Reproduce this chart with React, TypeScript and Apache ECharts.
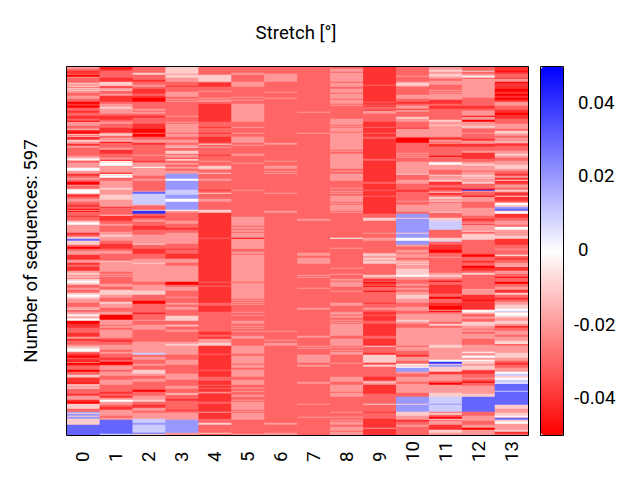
import React, { useEffect, useRef } from "react";
import * as echarts from "echarts";

// Runs: [last row (exclusive), level], level in hundredths of a degree.
// Rows are the pixel rows that the 597 sequences are resolved to in the picture.
const rowCount = 368;
const columnLabels = ["0", "1", "2", "3", "4", "5", "6", "7", "8", "9", "10", "11", "12", "13"];
const upperTicks = [0, 0.02, 0.04];
const lowerTicks = [-0.04, -0.02];

const col0 = [[2,-2],[4,-3],[7,-4],[8,-3],[10,-5],[11,-2],[16,-3],[17,-1],[19,-2],[20,-1],[21,-3],[22,-1],[23,-2],[24,-1],[26,-2],[29,-3],[32,-2],[35,-3],[37,-5],[39,-4],[41,-5],[44,-3],[46,-4],[49,-3],[52,-4],[54,-3],[55,-5],[59,-2],[62,-3],[63,-1],[65,-4],[67,-5],[68,-1],[69,-3],[70,-1],[73,-4],[75,-1],[77,-2],[79,-4],[81,-2],[89,-3],[91,-2],[92,-1],[93,0],[94,-1],[96,-3],[101,-2],[104,0],[107,-2],[109,-4],[111,-3],[113,-2],[115,-3],[118,-5],
[119,-2],[122,-3],[123,-1],[127,0],[128,-3],[130,-4],[132,-3],[135,-2],[138,-3],[140,-4],[142,-3],[143,-5],[144,-2],[145,-5],[149,-3],[150,-4],[154,-3],[156,-1],[158,0],[166,-2],[168,-4],[170,-3],[172,-1],[174,3],[178,-1],[180,-3],[182,-5],[184,-3],[188,-2],[193,-4],[196,-2],[198,-4],[200,-3],[204,-4],[206,-2],[208,-1],[210,-2],[211,-1],[212,-3],[214,-1],[216,0],[218,-1],[221,-3],[223,-2],[226,-3],[228,-1],[230,0],[232,-1],[236,-2],[240,-3],[242,-2],[243,-1],
[245,-3],[247,-2],[248,-1],[249,0],[250,-1],[251,-2],[252,-1],[254,0],[257,-5],[261,-4],[266,-3],[270,-4],[272,-2],[274,-4],[278,-3],[280,-2],[282,-1],[285,0],[287,-3],[289,-4],[291,-5],[292,-3],[294,-4],[295,-5],[296,-2],[298,-5],[299,-4],[303,-3],[305,-5],[308,-3],[310,-1],[311,-2],[316,-4],[317,-5],[318,-2],[319,-1],[321,-2],[322,-1],[327,-3],[329,-4],[333,-2],[335,-4],[337,-5],[342,-1],[345,-3],[346,2],[347,-1],[349,2],[350,-1],[352,2],[358,-1],[368,3]];
const col1 = [[1,-4],[2,-5],[4,-4],[11,-3],[15,-4],[19,-1],[20,-3],[21,-4],[23,-2],[24,-1],[27,-3],[29,-2],[35,-4],[37,-3],[40,-2],[42,-1],[47,-2],[49,-3],[53,-4],[55,-3],[57,-2],[61,-3],[66,-4],[67,-2],[69,-1],[71,-3],[74,-2],[75,-1],[76,-5],[81,-3],[83,-2],[87,-4],[91,-3],[93,-2],[94,-5],[95,0],[96,-1],[99,0],[106,-2],[107,-5],[108,0],[109,-1],[111,0],[114,-3],[118,-2],
[121,-2],[123,-1],[128,-2],[133,-1],[140,-2],[141,-4],[148,-3],[149,-1],[154,-4],[157,-3],[159,-2],[165,-3],[168,-2],[170,-1],[174,-2],[177,-3],[182,-4],[184,-3],[187,-2],[194,-3],[195,-1],[205,-2],[207,-3],[208,-2],[209,-3],[210,-2],[217,-3],[220,-2],[223,-3],[228,-1],[231,-2],[235,-3],[237,-1],[241,-2],[243,-3],
[245,-3],[248,-2],[253,-5],[258,-2],[259,-3],[261,-2],[263,-3],[271,-2],[273,-3],[275,-4],[278,-3],[283,-2],[285,-3],[287,-2],[291,-3],[293,-4],[295,-3],[298,-5],[299,-3],[303,-2],[305,-3],[309,-2],[313,-3],[318,-2],[325,-3],[327,-4],[329,-3],[331,-4],[333,-2],[335,0],[338,-2],[340,-3],[343,-4],[349,-2],[351,-3],[353,-2],[367,3],[368,1]];
const col2 = [[6,-3],[8,-1],[13,-3],[15,-4],[18,-3],[20,-2],[22,-3],[27,-4],[29,-3],[31,-4],[35,-5],[42,-3],[44,-2],[45,-3],[47,-2],[49,-3],[51,-4],[57,-3],[62,-4],[66,-5],[67,-3],[70,-5],[73,-3],[76,-2],[78,-4],[88,-3],[89,-2],[94,-3],[95,-4],[96,-3],[100,-2],[101,0],[109,-2],[112,-3],[114,-2],[118,-3],
[124,-3],[125,-2],[127,3],[138,1],[139,-2],[143,-3],[144,-1],[147,4],[149,-3],[151,-4],[153,-3],[155,-2],[159,-3],[163,-4],[168,-3],[177,-2],[178,-1],[182,-3],[187,-4],[192,-3],[196,-2],[197,-1],[215,-2],[218,-3],[224,-2],[228,-1],[234,-3],[237,-5],[243,-3],
[246,-3],[247,-5],[253,-3],[254,-2],[258,-3],[263,-2],[275,-3],[286,-2],[288,1],[290,-3],[293,-2],[297,-3],[299,-2],[303,-3],[307,-1],[309,-2],[312,-3],[315,-2],[323,-3],[325,-5],[329,-3],[333,-2],[335,-1],[338,-3],[341,-4],[344,-2],[346,-3],[352,-2],[356,1],[358,2],[366,1],[367,3],[368,-1]];
const col3 = [[7,-1],[8,-2],[11,-1],[15,-2],[19,-3],[20,-4],[25,-3],[30,-2],[32,-3],[33,-2],[34,-3],[35,-2],[49,-3],[50,-2],[55,-3],[56,-2],[57,-3],[66,-2],[67,-3],[70,-2],[73,-3],[76,-2],[78,-3],[80,-2],[81,-1],[84,-3],[87,-1],[88,-3],[91,-2],[92,-4],[94,-1],[96,-3],[98,-2],[100,-3],[102,-2],[104,-3],[107,-2],[112,2],[114,0],[118,2],
[123,2],[128,1],[132,2],[135,0],[143,2],[144,0],[146,-2],[154,-3],[157,-2],[161,-3],[163,-4],[166,-3],[177,-2],[182,-3],[183,-4],[187,-3],[192,-4],[196,-2],[199,-3],[215,-2],[218,-5],[220,-3],[224,-2],[230,-3],[231,-2],[236,-3],[238,-2],[240,-3],[243,-2],
[249,-3],[254,-1],[258,-3],[259,-1],[260,-2],[263,-3],[265,-2],[275,-3],[277,-2],[279,-1],[288,-2],[293,-3],[298,-2],[307,-3],[313,-2],[319,-3],[322,-2],[326,-3],[327,-2],[328,-1],[332,-3],[334,-4],[343,-3],[344,-4],[346,-3],[353,-2],[366,2],[368,-2]];
const col4 = [[8,-3],[15,-1],[16,-3],[20,-4],[24,-3],[25,-2],[31,-3],[32,-2],[33,-3],[35,-2],[37,-3],[55,-4],[60,-3],[61,-4],[66,-3],[67,-4],[70,-3],[76,-4],[77,-3],[78,-1],[80,-3],[81,-2],[88,-3],[89,-4],[94,-3],[95,-2],[99,-3],[102,-1],[103,-2],[106,-3],[107,-1],[112,-3],[114,-2],[118,-3],
[123,-3],[124,-4],[126,-3],[127,-1],[132,-3],[135,-2],[143,-3],[146,-1],[171,-4],[172,-3],[215,-4],[216,-3],[219,-4],[220,-3],[236,-4],[239,-3],[243,-4],
[245,-4],[265,-3],[268,-4],[270,-3],[272,-4],[276,-2],[279,-1],[287,-4],[288,-3],[303,-4],[304,-3],[310,-4],[314,-3],[318,-4],[319,-3],[321,-4],[322,-3],[325,-4],[326,-2],[327,-3],[335,-4],[337,-3],[345,-4],[346,-2],[352,-4],[356,-3],[358,-1],[366,-3],[367,-1],[368,-3]];
const col5 = [[6,-3],[8,-2],[15,-3],[20,-2],[30,-3],[31,-2],[33,-3],[34,-2],[37,-3],[55,-2],[60,-3],[61,-2],[66,-3],[67,-2],[70,-3],[76,-2],[78,-3],[79,-2],[87,-3],[89,-2],[96,-3],[97,-2],[118,-3],
[123,-3],[124,-2],[150,-3],[159,-2],[160,-3],[162,-2],[163,-3],[165,-2],[166,-3],[171,-2],[172,-5],[182,-2],[185,-3],[187,-2],[188,-3],[215,-2],[216,-3],[232,-2],[233,-3],[234,-2],[235,-3],[236,-2],[237,-3],[238,-2],[243,-3],
[245,-3],[246,-2],[248,-3],[249,-2],[254,-3],[257,-2],[259,-3],[260,-2],[261,-3],[262,-2],[264,-3],[265,-2],[269,-3],[272,-2],[279,-3],[287,-2],[289,-3],[297,-2],[298,-3],[301,-2],[303,-3],[310,-2],[313,-3],[318,-2],[321,-3],[322,-2],[324,-3],[325,-2],[328,-3],[330,-2],[333,-3],[334,-2],[335,-3],[343,-2],[344,-3],[345,-2],[346,-3],[353,-2],[367,-3],[368,-2]];
const col6 = [[7,-3],[15,-2],[25,-3],[26,-2],[31,-3],[32,-2],[76,-3],[78,-2],[94,-3],[95,-2],[99,-3],[102,-2],[104,-3],[105,-2],[106,-3],[107,-2],[126,-3],[127,-2],[144,-3],[146,-2],[264,-3],[265,-2],[273,-3],[274,-2],[276,-3],[279,-2],[356,-3],[358,-2],[366,-3],[368,-2]];
const col7 = [[45,-3],[46,-2],[66,-3],[67,-2],[152,-3],[154,-2],[186,-3],[189,-2],[191,-3],[197,-2],[208,-3],[209,-2],[210,-3],[211,-2],[221,-3],[222,-2],[241,-3],[243,-2],[269,-3],[271,-2],[279,-3],[280,-2],[281,-3],[282,-2],[288,-3],[296,-2],[298,-3],[300,-2],[315,-3],[317,-2],[337,-3],[338,-2],[350,-3],[351,-2],[368,-3]];
const col8 = [[2,-3],[5,-2],[6,-3],[15,-2],[16,-3],[20,-2],[22,-3],[26,-2],[27,-3],[32,-2],[33,-3],[37,-2],[38,-3],[39,-2],[52,-3],[58,-2],[59,-3],[60,-2],[61,-3],[65,-2],[66,-3],[83,-2],[84,-3],[85,-2],[87,-3],[102,-2],[104,-3],[105,-2],[107,-3],[114,-2],[118,-3],
[121,-3],[122,-2],[124,-3],[125,-2],[126,-3],[127,-2],[129,-3],[135,-2],[136,-3],[137,-2],[138,-3],[144,-2],[145,-3],[146,-2],[171,-3],[172,0],[181,-3],[182,-2],[201,-3],[202,-2],[207,-3],[208,-2],[212,-3],[214,-2],[215,-3],[220,-2],[224,-3],[225,-2],[236,-3],[239,-2],[243,-3],
[245,-3],[248,-2],[249,-3],[251,-2],[253,-3],[254,-2],[255,-3],[256,-2],[257,-3],[269,-2],[272,-3],[279,-2],[280,-3],[281,-2],[283,-3],[284,-2],[285,-3],[288,-2],[296,-3],[297,-2],[310,-3],[315,-2],[318,-3],[325,-2],[326,-3],[330,-2],[345,-3],[346,-2],[350,-3],[351,-2],[353,-3],[354,-2],[355,-3],[358,-2],[360,-3],[364,-2],[365,-3],[368,-2]];
const col9 = [[18,-4],[19,-3],[35,-4],[36,-3],[38,-4],[39,-3],[40,-4],[43,-3],[44,-4],[47,-2],[55,-3],[60,-4],[61,-3],[66,-4],[67,-3],[70,-4],[72,-3],[92,-4],[94,-3],[115,-4],[117,-3],[118,-4],
[123,-4],[124,-3],[129,-4],[130,-3],[147,-4],[151,-3],[154,-1],[166,-3],[167,-2],[171,-3],[174,-2],[186,-3],[187,-2],[189,-1],[191,-2],[193,-1],[194,-2],[197,-1],[208,-3],[210,-1],[212,-2],[214,-4],[215,-3],[216,-5],[218,-4],[219,-3],[220,-5],[224,-3],[225,-5],[236,-3],[237,-4],[241,-3],[243,-2],
[245,-3],[248,-4],[249,-3],[254,-4],[257,-3],[269,-4],[272,-3],[279,-4],[280,-1],[286,-3],[288,-4],[296,-1],[297,-4],[298,-3],[300,-1],[310,-3],[314,-4],[315,-2],[316,-1],[318,-2],[327,-4],[337,-3],[338,-1],[345,-3],[346,-4],[352,-3],[361,-4],[362,-2],[368,-4]];
const col10 = [[9,-3],[10,-2],[15,-3],[16,-2],[19,-1],[20,-2],[28,-3],[32,-2],[35,-3],[37,-4],[39,-3],[42,-2],[43,-4],[45,-2],[50,-3],[52,-1],[55,-2],[61,-3],[62,-4],[70,-2],[71,-3],[76,-5],[86,-3],[87,-2],[88,-3],[89,-2],[90,-3],[91,-2],[95,-3],[107,-2],[108,-1],[113,-3],[117,-2],[118,-3],
[123,-3],[125,-4],[134,-3],[135,-2],[138,-3],[145,-2],[147,-3],[151,2],[152,-1],[166,2],[167,-1],[171,2],[174,0],[178,2],[180,-2],[183,-3],[186,-2],[187,-3],[191,-2],[193,-3],[195,-2],[196,-1],[197,-2],[198,-1],[202,-2],[208,-1],[210,0],[213,-2],[217,-3],[219,-2],[221,-3],[223,-2],[225,-3],[228,-2],[232,-1],[236,-2],[240,-3],[243,-2],
[244,-2],[247,-3],[253,-2],[255,-1],[257,-2],[261,-3],[279,-2],[280,-3],[284,-2],[288,-3],[290,-4],[294,-2],[297,-3],[298,0],[300,-1],[301,0],[305,2],[307,-2],[310,-3],[315,-2],[317,-3],[326,-2],[330,-3],[337,2],[338,-1],[345,2],[349,-1],[353,-2],[355,-4],[358,-3],[360,-2],[368,-3]];
const col11 = [[3,-2],[5,-1],[7,-2],[10,-1],[12,-2],[14,-3],[18,-2],[23,-3],[24,-2],[25,-3],[26,-2],[27,-3],[33,-2],[37,-4],[39,-3],[42,-4],[53,-3],[55,-1],[58,-2],[59,-1],[70,-2],[71,-3],[73,-4],[75,-2],[76,-3],[77,-2],[80,-4],[89,-3],[90,-5],[95,-3],[96,-1],[98,0],[103,-2],[108,-3],[109,-1],[113,-2],[115,-1],[118,-4],
[121,-3],[123,-4],[125,-3],[126,-1],[128,-4],[130,-3],[132,-1],[134,-2],[135,-1],[136,-3],[145,-2],[146,-1],[151,-3],[154,-1],[163,1],[171,-3],[174,-1],[175,1],[178,-3],[183,-4],[186,-5],[190,-3],[191,-2],[206,-3],[208,-2],[210,-1],[212,-2],[214,-3],[215,-5],[218,-3],[227,-4],[230,-3],[232,-5],[236,-3],[239,-4],[243,-5],
[244,-2],[245,-5],[247,-3],[255,-2],[257,-3],[259,-1],[261,-3],[278,-2],[281,-1],[293,-2],[295,0],[297,4],[298,-1],[300,2],[305,-1],[307,-4],[308,-3],[314,-2],[316,-3],[318,-5],[326,-2],[330,-1],[337,1],[338,2],[345,1],[346,-3],[348,-1],[350,-3],[352,-5],[353,-1],[354,-3],[358,-2],[363,-4],[366,-1],[368,-2]];
const col12 = [[4,-3],[5,-1],[7,-3],[9,-2],[10,0],[11,-1],[12,-3],[31,-2],[39,-3],[42,-4],[44,-3],[49,-2],[50,-5],[53,-2],[55,-5],[59,-2],[61,-1],[62,-2],[66,-3],[67,-2],[72,-3],[74,-4],[77,-2],[80,-4],[84,-3],[86,-2],[92,-4],[95,-3],[97,-2],[99,-1],[104,-2],[105,-3],[108,-2],[110,-1],[111,-2],[112,-1],[115,-2],[117,-1],[118,-3],
[122,-3],[123,-5],[124,4],[125,-2],[129,-3],[130,-5],[135,-2],[141,-3],[149,-2],[152,-3],[154,-4],[156,-3],[157,-2],[158,-4],[164,-2],[165,-1],[167,-3],[173,-1],[187,-3],[188,-4],[190,-5],[194,-3],[196,-4],[199,-3],[201,-5],[204,-4],[206,-3],[208,-1],[222,-3],[228,-2],[233,-4],[234,-5],[243,-4],
[245,0],[247,-1],[250,-3],[252,-2],[255,-3],[259,-1],[262,-2],[263,-3],[265,-2],[267,-3],[272,-2],[278,-3],[285,-2],[286,0],[289,-2],[291,0],[293,-2],[294,0],[297,-1],[299,-2],[303,-1],[304,-3],[307,-4],[311,-3],[312,-2],[314,-3],[315,-4],[316,-5],[319,-3],[327,-2],[330,-1],[345,3],[349,-3],[354,-2],[358,-3],[361,-2],[363,-5],[368,-2]];
const col13 = [[4,-4],[5,-5],[7,-4],[11,-3],[12,-4],[15,-2],[16,-5],[22,-4],[25,-5],[27,-4],[29,-5],[31,-4],[33,-5],[35,-4],[39,-2],[43,-3],[46,-4],[48,-5],[52,-4],[57,-3],[62,-2],[64,-3],[67,-1],[69,-2],[71,-3],[75,-2],[76,-1],[77,-3],[79,-4],[84,-3],[87,-2],[89,-1],[91,-2],[94,-3],[98,-2],[102,-1],[104,-2],[107,-3],[109,-4],[111,-2],[113,-4],[114,-1],[117,-4],[118,-3],
[121,-2],[123,-3],[125,-1],[126,-3],[129,-4],[130,-1],[134,-4],[136,-3],[138,0],[140,-1],[142,2],[144,3],[145,-1],[147,0],[151,-4],[154,-3],[158,-2],[160,-3],[163,0],[169,-2],[172,-1],[178,-4],[182,-3],[183,-2],[188,-3],[189,0],[191,-3],[193,-4],[196,-3],[199,-2],[200,-1],[204,-4],[207,-2],[210,-3],[211,-5],[215,-3],[217,-5],[220,-3],[223,-2],[226,-4],[228,-1],[231,-3],[233,-4],[235,-3],[238,-2],[242,-1],[243,0],
[244,0],[245,1],[246,-1],[249,0],[251,-1],[254,-2],[257,-1],[259,-2],[261,-4],[264,-3],[268,-2],[270,-3],[274,-2],[276,-1],[277,0],[279,-3],[286,-2],[291,-1],[294,-2],[296,-3],[298,-4],[301,-3],[305,-2],[307,0],[309,1],[311,-1],[313,0],[316,1],[317,0],[324,3],[325,1],[338,3],[342,-1],[346,-2],[349,-1],[350,0],[351,-1],[353,3],[355,-1],[357,0],[363,-2],[365,-1],[367,-4],[368,-3]];

const columns = [col0, col1, col2, col3, col4, col5, col6, col7, col8, col9, col10, col11, col12, col13];

function cellsFromRuns(): number[][] {
  const cells: number[][] = [];
  columns.forEach((runs, c) => {
    let row = 0;
    runs.forEach(([end, level]) => {
      while (row < end && row < rowCount) {
        cells.push([c, row, level / 100]);
        row += 1;
      }
    });
    const last = runs[runs.length - 1][1];
    while (row < rowCount) {
      cells.push([c, row, last / 100]);
      row += 1;
    }
  });
  return cells;
}

const font = "Roboto";
const nameSize = 18.67;
const tickSize = 18.67;
const rows = Array.from({ length: rowCount }, (_, i) => String(i));

export default function App() {
  const ref = useRef<HTMLDivElement>(null);
  useEffect(() => {
    const chart = echarts.init(ref.current!, null, { renderer: "svg" });
    const barAxis = (gridIndex: number, ticks: number[], margin: number) => ({
      type: "value",
      gridIndex,
      min: -0.05,
      max: 0.05,
      position: "right",
      axisLine: { show: false },
      axisTick: { show: false },
      splitLine: { show: false },
      axisLabel: {
        customValues: ticks,
        margin,
        color: "#000",
        fontFamily: font,
        fontSize: tickSize,
        formatter: (v: number) => String(v),
      },
    });
    chart.setOption({
      animation: false,
      title: {
        text: "Stretch [°]",
        left: 291,
        top: 18,
        textAlign: "center",
        textStyle: { color: "#000", fontFamily: font, fontSize: nameSize, fontWeight: "normal" },
      },
      grid: [
        { left: 67, top: 67, width: 461, height: 368 },
        { left: 540, top: 66, width: 23, height: 368 },
        { left: 540, top: 67, width: 23, height: 368 },
      ],
      xAxis: [
        {
          type: "category",
          gridIndex: 0,
          data: columnLabels,
          axisLine: { show: false },
          axisTick: { show: false },
          splitLine: { show: false },
          axisLabel: { rotate: 90, align: "left", margin: 27, color: "#000", fontFamily: font, fontSize: tickSize, interval: 0, padding: [0, 0, 6, 0] },
        },
        { type: "value", gridIndex: 1, show: false },
        { type: "value", gridIndex: 2, show: false },
      ],
      yAxis: [
        {
          type: "category",
          gridIndex: 0,
          data: rows,
          inverse: true,
          name: "Number of sequences: 597",
          nameLocation: "middle",
          nameGap: 27,
          nameRotate: 90,
          nameTextStyle: { color: "#000", fontFamily: font, fontSize: nameSize },
          axisLine: { show: false },
          axisTick: { show: false },
          splitLine: { show: false },
          axisLabel: { show: false },
        },
        barAxis(1, upperTicks, 15),
        barAxis(2, lowerTicks, 11),
      ],
      visualMap: {
        type: "continuous",
        seriesIndex: 0,
        dimension: 2,
        min: -0.05,
        max: 0.05,
        left: 541,
        top: 67,
        padding: 0,
        itemWidth: 23,
        itemHeight: 368,
        calculable: false,
        realtime: false,
        hoverLink: false,
        inRange: { color: ["#ff0000", "#ffffff", "#0000ff"] },
      },
      series: [
        {
          type: "heatmap",
          xAxisIndex: 0,
          yAxisIndex: 0,
          data: cellsFromRuns(),
          progressive: 0,
          silent: true,
          itemStyle: { borderWidth: 0 },
        },
      ],
      graphic: [
        { type: "rect", z: 100, silent: true, shape: { x: 66.5, y: 66.5, width: 462, height: 369 }, style: { fill: "none", stroke: "#000", lineWidth: 1 } },
        { type: "rect", z: 100, silent: true, shape: { x: 540.5, y: 66.5, width: 23, height: 369 }, style: { fill: "none", stroke: "#000", lineWidth: 1 } },
      ],
    });
    return () => chart.dispose();
  }, []);
  return <div ref={ref} style={{ position: "fixed", left: 0, top: 0, width: 640, height: 480, background: "#fff" }} />;
}
